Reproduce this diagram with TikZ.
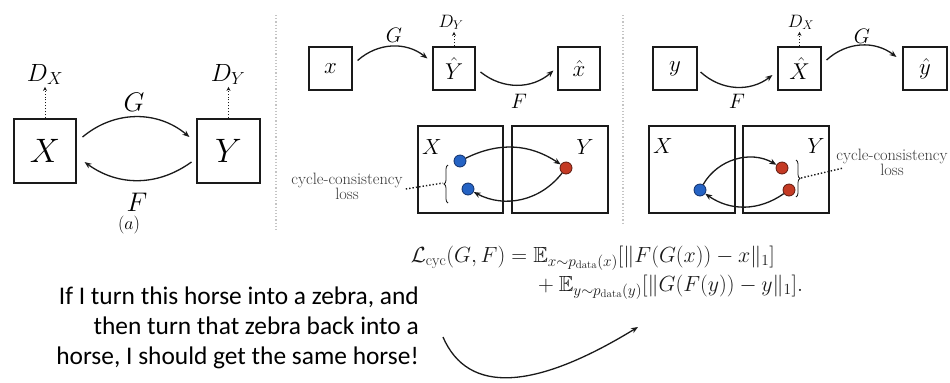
\RequirePackage{fix-cm}
\documentclass[tikz,border=0pt]{standalone}
\usepackage{amsmath,amssymb}
\usepackage{fontspec}
\usepackage{xcolor}
\usepackage{tikz}
\usetikzlibrary{arrows.meta,decorations.pathreplacing}
\newfontfamily\notefont{Carlito}
\definecolor{CGBlue}{HTML}{2563C4}
\definecolor{CGBlueEdge}{HTML}{12306A}
\definecolor{CGRed}{HTML}{C43A24}
\definecolor{CGRedEdge}{HTML}{5E1B10}
\definecolor{CGSep}{HTML}{C4C4C4}
\definecolor{CGGrey}{HTML}{383838}
\definecolor{CGInk}{HTML}{1A1A1A}

\begin{document}
\begin{tikzpicture}[x=1bp,y=1bp,
  box/.style={draw=CGInk,line width=1.1bp,inner sep=0pt},
  arr/.style={CGInk,line width=1.3bp,-{Stealth[length=7bp,width=5.5bp]}},
  dis/.style={CGInk,dotted,line width=1bp,-{Stealth[length=4bp,width=4bp]}},
  dotb/.style={circle,fill=CGBlue,draw=CGBlueEdge,line width=.8bp,minimum size=12bp,inner sep=0pt},
  dotr/.style={circle,fill=CGRed,draw=CGRedEdge,line width=.8bp,minimum size=12bp,inner sep=0pt},
  sep/.style={CGSep,dotted,line width=1.2bp},
  brc/.style={CGInk,decorate,decoration={brace,amplitude=4bp},line width=.8bp},
  lossnote/.style={CGGrey,align=center,inner sep=3bp,font=\fontsize{16.5}{15}\selectfont},
  dlab/.style={anchor=base,inner sep=2bp}]
\useasboundingbox (0,0) rectangle (950,-382);
\fill[white] (0,0) rectangle (950,-382);
% separators
\draw[sep] (276,-15) -- (276,-230);
\draw[sep] (623,-15) -- (623,-225);

% (a)
\node[box,minimum width=62bp,minimum height=64bp,font=\fontsize{34}{40}\selectfont] (aX) at (45,-151) {$X$};
\node[box,minimum width=63bp,minimum height=64bp,font=\fontsize{34}{40}\selectfont] (aY) at (228.5,-151) {$Y$};
\node[dlab,font=\fontsize{25}{30}\selectfont] (aDX) at (45,-81) {$D_X$};
\node[dlab,font=\fontsize{25}{30}\selectfont] (aDY) at (228,-81) {$D_Y$};
\draw[dis] (aX.north) -- (aX.north |- aDX.south);
\draw[dis] (aY.north) -- (aY.north |- aDY.south);
\draw[arr] ([shift={(6,14)}]aX.east) to[bend left=40] ([shift={(-7,14)}]aY.west);
\draw[arr] ([shift={(-5,-11)}]aY.west) to[bend left=36] ([shift={(8,-11)}]aX.east);
\node[font=\fontsize{27}{32}\selectfont] (aG) at (134,-102) {$G$};
\node[font=\fontsize{27}{32}\selectfont] (aF) at (137,-202) {$F$};
\node[font=\fontsize{18}{21}\selectfont] (acap) at (129,-225) {$(a)$};

% (b) forward cycle
\node[box,minimum width=43bp,minimum height=43bp,font=\fontsize{23}{28}\selectfont] (bx) at (330.5,-68.5) {$x$};
\node[box,minimum width=42bp,minimum height=43bp,font=\fontsize{23}{28}\selectfont] (bYh) at (454,-68.5) {$\hat{Y}$};
\node[box,minimum width=42bp,minimum height=43bp,font=\fontsize{23}{28}\selectfont] (bxh) at (579,-68.5) {$\hat{x}$};
\node[dlab,font=\fontsize{18}{22}\selectfont] (bDY) at (451,-27) {$D_Y$};
\draw[dis] (bYh.north) -- (bYh.north |- bDY.south);
\draw[arr] ([shift={(5,8)}]bx.east) to[bend left=40] ([shift={(-5,10)}]bYh.west);
\draw[arr] ([shift={(5,-3.5)}]bYh.east) to[bend right=40] ([shift={(-4,-2)}]bxh.west);
\node[font=\fontsize{21}{25}\selectfont] (bG) at (394,-35) {$G$};
\node[font=\fontsize{21}{25}\selectfont] (bF) at (519,-101) {$F$};
\node[box,minimum width=85bp,minimum height=87bp] (bpX) at (460.5,-169.5) {};
\node[box,minimum width=96bp,minimum height=87bp] (bpY) at (560,-169.5) {};
\node[font=\fontsize{22}{26}\selectfont] (bXl) at (432,-147) {$X$};
\node[font=\fontsize{22}{26}\selectfont] (bYl) at (585,-147) {$Y$};
\node[dotb] (bm1) at (460,-161) {};
\node[dotb] (bm2) at (468,-189) {};
\node[dotr] (bmr) at (566,-168) {};
\draw[arr] (bm1) to[bend left=30] (bmr);
\draw[arr] (bmr) to[bend left=40] (bm2);
\draw[brc] (448,-203) -- (448,-165);
\coordinate (bTip) at (443,-183);
\node[lossnote] (bLoss) at (347,-186) {cycle-consistency\\loss};
\draw[CGInk,dotted,line width=1.4bp] ([yshift=-3bp]bLoss.east) -- (bTip);

% (c) backward cycle
\node[box,minimum width=44bp,minimum height=43bp,font=\fontsize{23}{28}\selectfont] (cy) at (675,-68.5) {$y$};
\node[box,minimum width=43bp,minimum height=43bp,font=\fontsize{23}{28}\selectfont] (cXh) at (799.5,-68.5) {$\hat{X}$};
\node[box,minimum width=44bp,minimum height=43bp,font=\fontsize{23}{28}\selectfont] (cyh) at (925,-68.5) {$\hat{y}$};
\node[dlab,font=\fontsize{18}{22}\selectfont] (cDX) at (801,-27) {$D_X$};
\draw[dis] (cXh.north) -- (cXh.north |- cDX.south);
\draw[arr] ([shift={(3,-3.5)}]cy.east) to[bend right=40] ([shift={(-5,-6.5)}]cXh.west);
\draw[arr] ([shift={(5,8.5)}]cXh.east) to[bend left=40] ([shift={(-6,11.5)}]cyh.west);
\node[font=\fontsize{21}{25}\selectfont] (cF) at (737,-101) {$F$};
\node[font=\fontsize{21}{25}\selectfont] (cG) at (862,-36) {$G$};
\node[box,minimum width=86bp,minimum height=87bp] (cpX) at (692,-169.5) {};
\node[box,minimum width=86bp,minimum height=87bp] (cpY) at (786,-169.5) {};
\node[font=\fontsize{22}{26}\selectfont] (cXl) at (663,-146) {$X$};
\node[font=\fontsize{22}{26}\selectfont] (cYl) at (816,-146) {$Y$};
\node[dotb] (cm1) at (700,-190) {};
\node[dotr] (cr1) at (782,-168) {};
\node[dotr] (cr2) at (789,-190) {};
\draw[arr] (cm1) to[bend left=45] (cr1);
\draw[arr] (cr2) to[bend left=35] (cm1);
\draw[brc] (796,-160) -- (796,-197);
\coordinate (cTip) at (801,-178);
\node[lossnote] (cLoss) at (892,-162) {cycle-consistency\\loss};
\draw[CGInk,dotted,line width=1.4bp] (cTip) -- ([shift={(10,-6)}]cLoss.west);

% loss and note
\node[CGInk,font=\fontsize{22}{25}\selectfont] (eq) at (607,-272)
  {$\begin{aligned}\mathcal{L}_{\mathrm{cyc}}(G,F) ={}& \mathbb{E}_{x\sim p_{\mathrm{data}}(x)}[\|F(G(x))-x\|_1]\\
  &+\mathbb{E}_{y\sim p_{\mathrm{data}}(y)}[\|G(F(y))-y\|_1].\end{aligned}$};
\node[anchor=east,align=right,inner sep=0pt,font=\notefont\fontsize{25.5}{30}\selectfont] (note) at (419,-328)
  {If I turn this horse into a zebra, and\\then turn that zebra back into a\\horse, I should get the same horse!};
\coordinate (noteEnd) at (638,-327);
\draw[arr] ([shift={(24,-9)}]note.east) .. controls (468,-395) and (535,-390) .. (noteEnd);
\end{tikzpicture}
\end{document}
